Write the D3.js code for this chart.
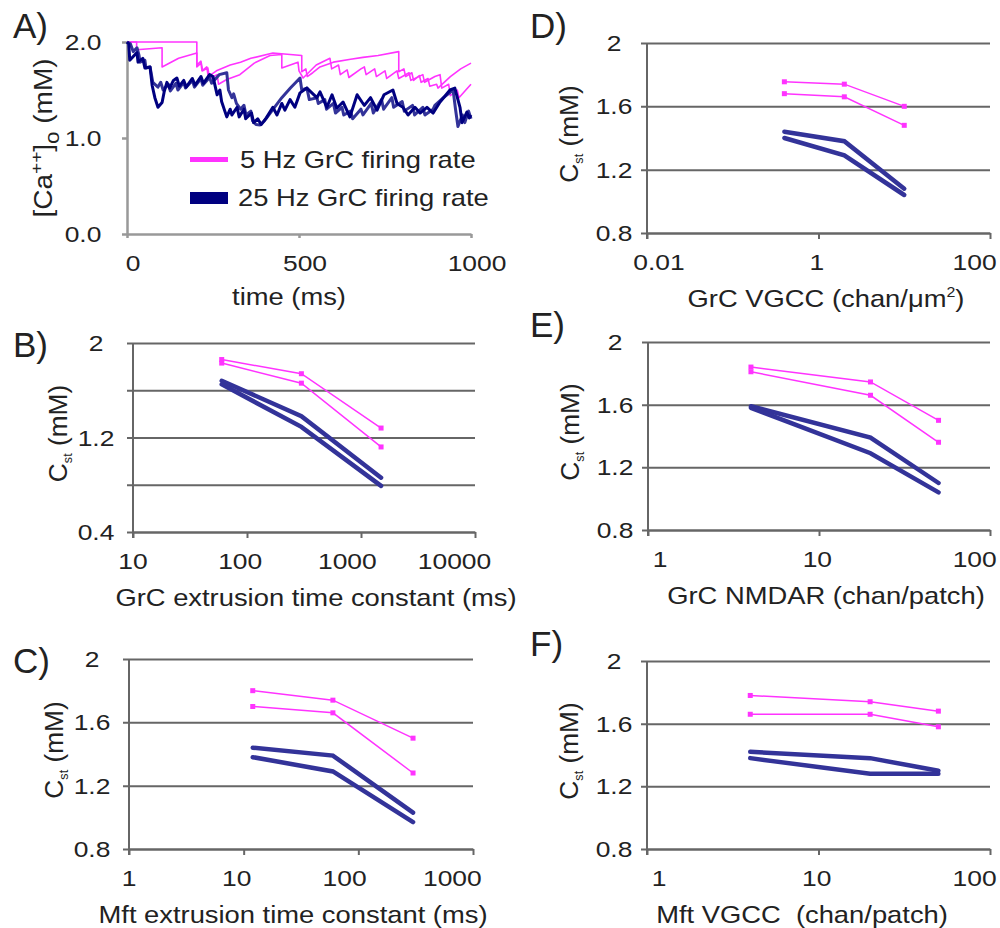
<!DOCTYPE html>
<html lang="en">
<head>
<meta charset="UTF-8">
<title>Ca depletion</title>
<script src="https://cdn.jsdelivr.net/npm/d3@7"></script>
<style>
    body { margin: 0; background: #fff; }
    text { font-family: "Liberation Sans", Arial, sans-serif; fill: #222; }
</style>
</head>
<body>
<script>
// ---------- panel A : [Ca++]o time course, [t (ms), conc (mM)] ----------
var timeTicks = [0, 500, 1000];
var caTicks = [0, 1, 2];
var caTickLabels = ["0.0", "1.0", "2.0"];

var ca5HzA = [[0,2.0],[203,2.0],[203,1.74],[215,1.78],[218,1.70],[232,1.74],[236,1.64],[260,1.70],[300,1.76],[330,1.79],[360,1.83],[424,1.885],[508,1.86],[508,1.69],[520,1.72],[524,1.64],[540,1.68],[561,1.74],[600,1.79],[650,1.82],[686,1.84],[730,1.86],[790,1.90],[790,1.69],[805,1.72],[810,1.64],[828,1.68],[833,1.60],[850,1.65],[855,1.58],[875,1.62],[880,1.54],[900,1.56],[904,1.52],[940,1.64],[970,1.72],[1000,1.78]];
var ca5HzB = [[0,2.0],[28,2.0],[28,1.92],[102,1.94],[102,1.74],[150,1.83],[203,1.885],[203,1.76],[215,1.80],[220,1.70],[235,1.73],[240,1.62],[262,1.66],[266,1.56],[290,1.61],[328,1.66],[370,1.78],[416,1.86],[450,1.87],[450,1.73],[497,1.79],[500,1.70],[512,1.625],[550,1.76],[590,1.83],[595,1.72],[615,1.76],[620,1.66],[640,1.71],[645,1.63],[680,1.72],[690,1.74],[695,1.66],[720,1.72],[725,1.64],[750,1.70],[755,1.62],[785,1.70],[790,1.62],[820,1.68],[825,1.60],[860,1.66],[865,1.58],[895,1.64],[910,1.66],[915,1.52],[935,1.56],[940,1.44],[960,1.50],[965,1.42],[985,1.50],[1000,1.56]];
var ca25HzA = [[0,2.0],[5,1.98],[8,1.81],[29,1.89],[32,1.79],[46,1.83],[52,1.73],[67,1.74],[73,1.55],[81,1.42],[90,1.32],[102,1.37],[108,1.48],[116,1.58],[124,1.52],[135,1.60],[145,1.625],[152,1.54],[165,1.60],[172,1.53],[190,1.62],[198,1.55],[215,1.64],[222,1.57],[240,1.66],[250,1.64],[262,1.45],[270,1.50],[275,1.38],[290,1.22],[300,1.30],[305,1.24],[320,1.32],[326,1.22],[340,1.30],[345,1.20],[362,1.26],[368,1.16],[380,1.20],[390,1.14],[405,1.21],[424,1.32],[436,1.24],[450,1.36],[459,1.29],[474,1.40],[488,1.32],[503,1.47],[523,1.52],[552,1.42],[561,1.48],[581,1.32],[596,1.45],[610,1.31],[628,1.375],[648,1.22],[669,1.45],[683,1.375],[690,1.34],[708,1.42],[727,1.29],[747,1.45],[773,1.50],[785,1.36],[802,1.32],[817,1.24],[837,1.32],[852,1.26],[872,1.32],[890,1.26],[910,1.375],[939,1.50],[953,1.52],[968,1.32],[974,1.16],[988,1.27],[995,1.21],[1000,1.24]];
var ca25HzB = [[0,2.0],[10,1.98],[18,1.90],[29,1.94],[35,1.86],[38,1.79],[52,1.81],[55,1.73],[67,1.74],[75,1.58],[90,1.53],[98,1.58],[105,1.50],[120,1.56],[126,1.49],[142,1.57],[148,1.50],[165,1.58],[170,1.52],[190,1.60],[196,1.53],[215,1.62],[220,1.55],[240,1.63],[246,1.57],[268,1.66],[290,1.68],[295,1.50],[305,1.42],[310,1.46],[318,1.36],[330,1.30],[340,1.34],[346,1.24],[360,1.28],[365,1.18],[375,1.14],[387,1.135],[400,1.18],[425,1.30],[450,1.42],[475,1.52],[503,1.625],[508,1.50],[523,1.52],[530,1.40],[552,1.42],[556,1.36],[575,1.40],[580,1.30],[600,1.36],[606,1.26],[625,1.32],[630,1.24],[650,1.28],[656,1.20],[680,1.30],[686,1.24],[710,1.36],[716,1.26],[740,1.40],[746,1.30],[770,1.42],[775,1.32],[800,1.38],[806,1.28],[830,1.34],[836,1.24],[860,1.32],[866,1.24],[890,1.30],[895,1.34],[920,1.42],[948,1.50],[955,1.30],[962,1.12],[975,1.24],[982,1.16],[993,1.28],[1000,1.20]];

var legendLabels = ["5 Hz GrC firing rate", "25 Hz GrC firing rate"];

// ---------- panels B-F : steady state Cst (mM) ----------
var cstTicks = [0.8, 1.2, 1.6, 2];
var cstTickLabels = ["0.8", "1.2", "1.6", "2"];
var cstTicksB = [0.4, 0.8, 1.2, 1.6, 2];
var cstTickLabelsB = ["0.4", "", "1.2", "", "2"];

// B) GrC extrusion time constant (ms)
var grcTau = [60, 300, 1500];
var grcTauTicks = [10, 100, 1000, 10000];
var grcTau5HzA = [1.86, 1.74, 1.28];
var grcTau5HzB = [1.83, 1.66, 1.12];
var grcTau25HzA = [1.68, 1.38, 0.86];
var grcTau25HzB = [1.65, 1.29, 0.79];

// C) Mft extrusion time constant (ms)
var mftTau = [12, 60, 300];
var mftTauTicks = [1, 10, 100, 1000];
var mftTau5HzA = [1.80, 1.74, 1.50];
var mftTau5HzB = [1.70, 1.66, 1.28];
var mftTau25HzA = [1.44, 1.39, 1.03];
var mftTau25HzB = [1.38, 1.29, 0.97];

// D) GrC VGCC (chan/um2)
var grcVgcc = [0.4, 2, 10];
var grcVgccTicks = [0.01, 1, 100];
var grcVgcc5HzA = [1.755, 1.74, 1.60];
var grcVgcc5HzB = [1.68, 1.66, 1.48];
var grcVgcc25HzA = [1.44, 1.38, 1.08];
var grcVgcc25HzB = [1.40, 1.29, 1.04];

// E) GrC NMDAR (chan/patch)
var grcNmdar = [4, 20, 50];
var grcNmdarTicks = [1, 10, 100];
var grcNmdar5HzA = [1.84, 1.745, 1.50];
var grcNmdar5HzB = [1.81, 1.66, 1.36];
var grcNmdar25HzA = [1.59, 1.39, 1.10];
var grcNmdar25HzB = [1.58, 1.29, 1.04];

// F) Mft VGCC (chan/patch)
var mftVgcc = [4, 20, 50];
var mftVgccTicks = [1, 10, 100];
var mftVgcc5HzA = [1.78, 1.74, 1.68];
var mftVgcc5HzB = [1.66, 1.66, 1.58];
var mftVgcc25HzA = [1.42, 1.38, 1.30];
var mftVgcc25HzB = [1.38, 1.28, 1.28];

var PINK = "#ff33ff", NAVY = "#333399", DARKNAVY = "#000080", GRID = "#666";

var svg = d3.select("body").append("svg")
    .attr("width", 1000)
    .attr("height", 928);

function label(g, x, y, str, size, sx, anchor) {
    return g.append("text")
        .attr("transform", `translate(${x},${y}) scale(${sx},1)`)
        .attr("font-size", size)
        .attr("text-anchor", anchor || "start")
        .text(str);
}

// ================= panel A =================
(function () {
    var L = 127, R = 471, T = 42, B = 234;
    var x = d3.scaleLinear().domain([0, 1000]).range([L, R]);
    var y = d3.scaleLinear().domain([0, 2]).range([B, T]);
    var g = svg.append("g");

    var ya = g.append("g").attr("transform", `translate(${L},0)`)
        .call(d3.axisLeft(y).tickValues(caTicks).tickSize(5).tickSizeOuter(0).tickFormat(""));
    var xa = g.append("g").attr("transform", `translate(0,${B})`)
        .call(d3.axisBottom(x).tickValues(timeTicks).tickSize(4).tickSizeOuter(0).tickFormat(""));
    g.selectAll(".domain, .tick line").attr("stroke", "#999").attr("stroke-width", 2.5);

    caTicks.forEach(function (d, i) {
        label(g, L - 44, y(d) + 8, caTickLabels[i], 22, 1.2, "middle");
    });
    timeTicks.forEach(function (d) {
        label(g, x(d) + 6, B + 37, String(d), 22, 1.2, "middle");
    });
    label(g, 289, B + 71, "time (ms)", 24, 1.14, "middle");

    // y title [Ca++]o (mM)
    var t = g.append("text")
        .attr("transform", `translate(${L - 75},138) rotate(-90) scale(1.12,1)`)
        .attr("font-size", 25).attr("text-anchor", "middle");
    t.append("tspan").text("[Ca");
    t.append("tspan").attr("font-size", 17).attr("dy", -10).text("++");
    t.append("tspan").attr("dy", 10).text("]");
    t.append("tspan").attr("font-size", 20).attr("dy", 7).text("o");
    t.append("tspan").attr("dy", -7).text(" (mM)");

    var line = d3.line().x(d => x(d[0])).y(d => y(d[1]));
    [[ca5HzA, PINK, 1.6], [ca5HzB, PINK, 1.6], [ca25HzB, NAVY, 3], [ca25HzA, DARKNAVY, 3]]
        .forEach(function (s) {
            g.append("path").datum(s[0]).attr("d", line)
                .attr("fill", "none").attr("stroke", s[1]).attr("stroke-width", s[2])
                .attr("stroke-linejoin", "round");
        });

    // legend
    g.append("rect").attr("x", 190).attr("y", 157).attr("width", 38).attr("height", 5).attr("fill", PINK);
    g.append("rect").attr("x", 190).attr("y", 192).attr("width", 38).attr("height", 12).attr("fill", DARKNAVY);
    label(g, 240, 168, legendLabels[0], 23, 1.19);
    label(g, 238, 206, legendLabels[1], 23, 1.19);

    label(g, 13, 38, "A)", 35, 1);
})();

// ================= panels B-F =================
var panels = [
    {tag: "B)", xs: grcTau, xTicks: grcTauTicks, s: [grcTau5HzA, grcTau5HzB, grcTau25HzA, grcTau25HzB],
     yTicks: cstTicksB, yLabels: cstTickLabelsB, L: 133, R: 475, T: 343, B: 532,
     title: "GrC extrusion time constant (ms)", titleX: 316, col: 0},
    {tag: "C)", xs: mftTau, xTicks: mftTauTicks, s: [mftTau5HzA, mftTau5HzB, mftTau25HzA, mftTau25HzB],
     yTicks: cstTicks, yLabels: cstTickLabels, L: 129, R: 473, T: 659, B: 849,
     title: "Mft extrusion time constant (ms)", titleX: 293, col: 0},
    {tag: "D)", xs: grcVgcc, xTicks: grcVgccTicks, s: [grcVgcc5HzA, grcVgcc5HzB, grcVgcc25HzA, grcVgcc25HzB],
     yTicks: cstTicks, yLabels: cstTickLabels, L: 647, R: 990, T: 43, B: 233,
     title: "GrC VGCC (chan/\u03bcm", sup: "2", titleX: 826, col: 1},
    {tag: "E)", xs: grcNmdar, xTicks: grcNmdarTicks, s: [grcNmdar5HzA, grcNmdar5HzB, grcNmdar25HzA, grcNmdar25HzB],
     yTicks: cstTicks, yLabels: cstTickLabels, L: 648, R: 990, T: 342, B: 530,
     title: "GrC NMDAR (chan/patch)", titleX: 826, col: 1},
    {tag: "F)", xs: mftVgcc, xTicks: mftVgccTicks, s: [mftVgcc5HzA, mftVgcc5HzB, mftVgcc25HzA, mftVgcc25HzB],
     yTicks: cstTicks, yLabels: cstTickLabels, L: 647, R: 990, T: 661, B: 849,
     title: "Mft VGCC\u00a0 (chan/patch)", titleX: 802, col: 1}
];

panels.forEach(function (p) {
    var x = d3.scaleLog().domain([p.xTicks[0], p.xTicks[p.xTicks.length - 1]]).range([p.L, p.R]);
    var y = d3.scaleLinear().domain([p.yTicks[0], p.yTicks[p.yTicks.length - 1]]).range([p.B, p.T]);
    var g = svg.append("g");

    // gridlines + left ticks
    var ya = g.append("g").attr("transform", `translate(${p.L},0)`)
        .call(d3.axisLeft(y).tickValues(p.yTicks).tickSize(-(p.R - p.L)).tickSizeOuter(0).tickFormat(""));
    ya.selectAll(".tick line").attr("x1", -6);
    ya.select(".domain").attr("d", `M0,${p.B + 6}V${p.T}`);
    var xa = g.append("g").attr("transform", `translate(0,${p.B})`)
        .call(d3.axisBottom(x).tickValues(p.xTicks).tickSize(6).tickSizeOuter(0).tickFormat(""));
    g.selectAll(".domain, .tick line").attr("stroke", GRID).attr("stroke-width", 2);

    // tick labels
    var yOff = p.col ? 33 : 37;
    p.yTicks.forEach(function (d, i) {
        if (p.yLabels[i]) label(g, p.L - yOff, y(d) + 8, p.yLabels[i], 22, 1.2, "middle");
    });
    var a = p.col ? 12 : 0, k = p.col ? 0.92 : 0.94;
    p.xTicks.forEach(function (d) {
        label(g, p.L + a + (x(d) - p.L) * k, p.B + 37, String(d), 22, 1.2, "middle");
    });

    // x title
    var tt = label(g, p.titleX, p.B + 74, p.title, 24, 1.14, "middle");
    if (p.sup) {
        tt.append("tspan").attr("font-size", 14).attr("dy", -10).text(p.sup);
        tt.append("tspan").attr("dy", 10).text(")");
    }

    // y title Cst (mM)
    var t = g.append("text")
        .attr("transform", `translate(${p.L - (p.col ? 69 : 66)},${(p.T + p.B) / 2 - 4}) rotate(-90) scale(1.05,1)`)
        .attr("font-size", 25).attr("text-anchor", "middle");
    t.append("tspan").text("C");
    t.append("tspan").attr("font-size", 12).attr("dy", 5).text("st");
    t.append("tspan").attr("dy", -5).text(" (mM)");

    // series
    var line = d3.line().x((d, i) => x(p.xs[i])).y(d => y(d));
    [p.s[2], p.s[3]].forEach(function (s) {
        g.append("path").datum(s).attr("d", line)
            .attr("fill", "none").attr("stroke", NAVY).attr("stroke-width", 4.5)
            .attr("stroke-linecap", "round");
    });
    [p.s[0], p.s[1]].forEach(function (s) {
        g.append("path").datum(s).attr("d", line)
            .attr("fill", "none").attr("stroke", PINK).attr("stroke-width", 1.5);
        g.selectAll(null).data(s).enter().append("rect")
            .attr("x", (d, i) => x(p.xs[i]) - 2.5).attr("y", d => y(d) - 2.5)
            .attr("width", 5).attr("height", 5).attr("fill", PINK);
    });

    label(g, p.col ? 530 : 13, p.T - (p.col ? 5 : -14) + (p.tag === "B)" ? 0 : 0), p.tag, 35, 1);
});
</script>
</body>
</html>
